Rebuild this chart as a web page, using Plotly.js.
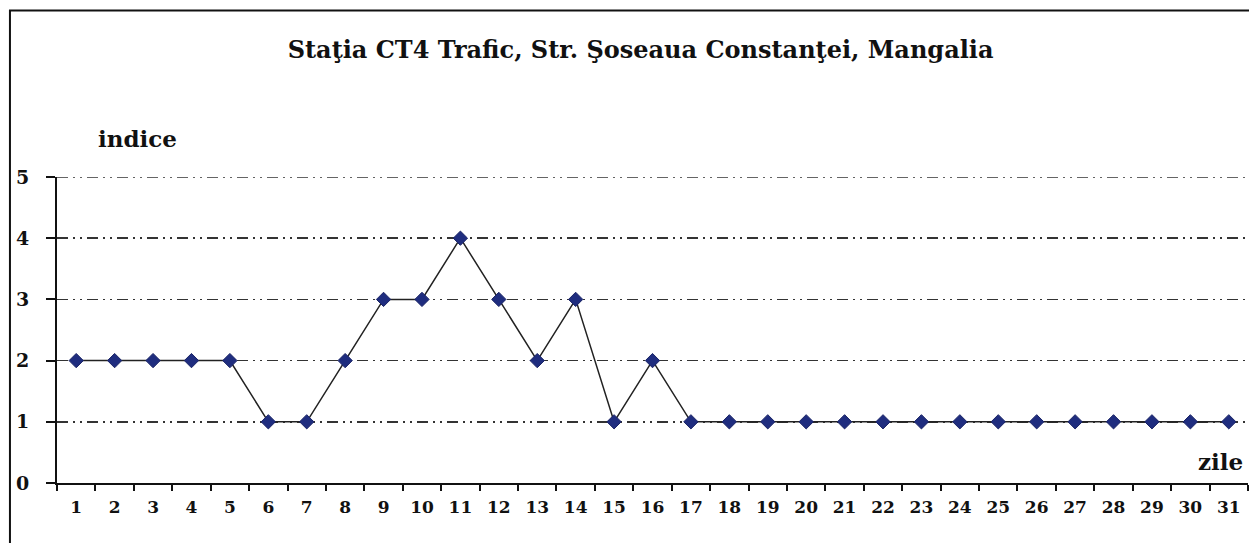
<!DOCTYPE html>
<html>
<head>
<meta charset="utf-8">
<script src="https://cdn.plot.ly/plotly-3.0.1.min.js"></script>
<style>
html,body{margin:0;padding:0;background:#fff;}
#chart{width:1249px;height:543px;}
</style>
</head>
<body>
<div id="chart"></div>
<script>
const zile = ["1","2","3","4","5","6","7","8","9","10","11","12","13","14","15","16","17","18","19","20","21","22","23","24","25","26","27","28","29","30","31"];
const indice = [2,2,2,2,2,1,1,2,3,3,4,3,2,3,1,2,1,1,1,1,1,1,1,1,1,1,1,1,1,1,1];
const yTicks = [0,1,2,3,4,5];
const yMax = 5;
const titleText = "Staţia CT4 Trafic, Str. Şoseaua Constanţei, Mangalia";

const serif = "DejaVu Serif, Liberation Serif, serif";
const gridDash = "11px,5px,2px,5px,2px,5px";

const trace = {
  x: zile, y: indice, type: "scatter", mode: "lines+markers",
  line: {color: "#222222", width: 1.5},
  marker: {symbol: "diamond", size: 11, color: "#1f2d7f", line: {color: "#1a2466", width: 1}},
  hoverinfo: "skip", cliponaxis: false
};

const layout = {
  width: 1249, height: 543,
  margin: {l: 57, r: 1, t: 177, b: 60},
  paper_bgcolor: "#fff", plot_bgcolor: "#fff",
  showlegend: false,
  title: {text: "<b>" + titleText + "</b>", font: {family: serif, size: 24, color: "#111"},
          xref: "paper", x: 0.49, xanchor: "center", yref: "container", y: 0.908, yanchor: "middle"},
  xaxis: {
    type: "category", tickson: "boundaries", range: [-0.5, 30.5],
    showgrid: false, zeroline: false,
    showline: true, linecolor: "#111", linewidth: 2,
    ticks: "outside", ticklen: 6, tickwidth: 2, tickcolor: "#111",
    ticklabelstandoff: 8,
    tickfont: {family: serif, size: 17, color: "#111", weight: "bold"}
  },
  yaxis: {
    range: [0, yMax], tickvals: yTicks, ticktext: yTicks.map(String),
    showgrid: true, gridcolor: "#333", gridwidth: 1.5, griddash: gridDash,
    zeroline: false,
    showline: true, linecolor: "#111", linewidth: 2,
    ticks: "outside", ticklen: 9, tickwidth: 2, tickcolor: "#111",
    ticklabelstandoff: 13,
    tickfont: {family: serif, size: 19, color: "#111", weight: "bold"}
  },
  shapes: [
    {type: "rect", xref: "paper", yref: "paper",
     x0: -0.0395, x1: 1.05, y0: -0.4, y1: 1.544,
     line: {color: "#111", width: 2}, fillcolor: "rgba(0,0,0,0)", layer: "below"},
    {type: "line", xref: "paper", yref: "y", x0: 0, x1: 1, y0: yMax, y1: yMax,
     line: {color: "#333", width: 1.5, dash: gridDash}, layer: "below"}
  ],
  annotations: [
    {text: "<b>indice</b>", xref: "paper", yref: "paper", x: 0.068, y: 1.1246,
     xanchor: "center", yanchor: "middle", showarrow: false,
     font: {family: serif, size: 23, color: "#111"}},
    {text: "<b>zile</b>", xref: "paper", yref: "paper", x: 0.9765, y: 0.0689,
     xanchor: "center", yanchor: "middle", showarrow: false,
     font: {family: serif, size: 23, color: "#111"}}
  ]
};

Plotly.newPlot("chart", [trace], layout, {staticPlot: true, displayModeBar: false});
</script>
</body>
</html>
